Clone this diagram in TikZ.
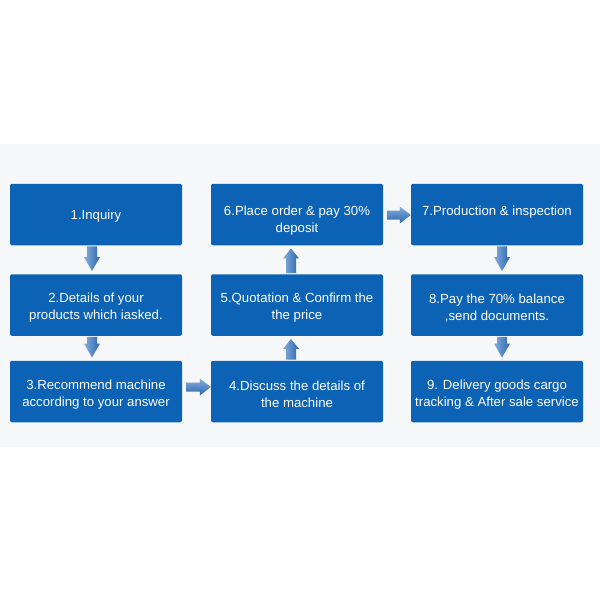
\documentclass[tikz,border=0pt]{standalone}
\usepackage{fontspec}
\setmainfont{Liberation Sans}
\usetikzlibrary{calc}
\definecolor{boxblue}{HTML}{0C62B4}
\definecolor{bandgray}{HTML}{F6F7F8}
\definecolor{arlight}{HTML}{86AEDD}
\definecolor{ardark}{HTML}{2A65AE}
\begin{document}
\begin{tikzpicture}[x=1pt,y=-1pt,
  box/.style={fill=boxblue, rounded corners=2pt, minimum width=172pt, minimum height=61.5pt, inner sep=0pt, draw=none},
  txt/.style={text=white, align=center, font=\fontsize{13.2}{17}\selectfont, inner sep=0pt},
  varrow/.style={left color=arlight, right color=ardark, draw=none},
  harrow/.style={top color=arlight, bottom color=ardark, draw=none}]
\useasboundingbox (0,0) rectangle (600,600);
\fill[bandgray] (0,144) rectangle (600,447);
% boxes
\node[box] (b1) at (96,214.5) {};
\node[box] (b2) at (96,305) {};
\node[box] (b3) at (96,391.5) {};
\node[box] (b6) at (297,214.5) {};
\node[box] (b5) at (297,305) {};
\node[box] (b4) at (297,391.5) {};
\node[box] (b7) at (497,214.5) {};
\node[box] (b8) at (497,305) {};
\node[box] (b9) at (497,391.5) {};
% texts
\node[txt] (t1) at ($(b1.center)+(0,1.5)$) {1.Inquiry};
\node[txt] (t2) at ($(b2.center)+(0,2.5)$) {2.Details of your\\products which iasked.};
\node[txt] (t3) at ($(b3.center)+(0,3)$) {3.Recommend machine\\according to your answer};
\node[txt] (t4) at ($(b4.center)+(0,3)$) {4.Discuss the details of\\the machine};
\node[txt] (t5) at ($(b5.center)+(0,3)$) {5.Quotation \& Confirm the\\the price};
\node[txt] (t6) at ($(b6.center)+(0,6)$) {6.Place order \& pay 30\%\\deposit};
\node[txt] (t7) at ($(b7.center)+(0,-2.5)$) {7.Production \& inspection};
\node[txt] (t8) at ($(b8.center)+(0,3.5)$) {8.Pay the 70\% balance\\,send documents.};
\node[txt] (t9) at ($(b9.center)+(0,3)$) {9. Delivery goods cargo\\tracking \& After sale service};
% down arrows
\foreach \a/\b/\dx in {b1/b2/-4, b2/b3/-4, b7/b8/5, b8/b9/5}{
  \path[varrow] ($(\a.south)+(\dx-5,1)$) -- ($(\a.south)+(\dx+5,1)$) -- ($(\b.north)+(\dx+5,-17)$) -- ($(\b.north)+(\dx+8,-17)$) -- ($(\b.north)+(\dx,-3)$) -- ($(\b.north)+(\dx-8,-17)$) -- ($(\b.north)+(\dx-5,-17)$) -- cycle;
}
% up arrows
\foreach \a/\b/\dx in {b4/b5/-6, b5/b6/-6}{
  \path[varrow] ($(\a.north)+(\dx-5,-1)$) -- ($(\a.north)+(\dx+5,-1)$) -- ($(\b.south)+(\dx+5,13)$) -- ($(\b.south)+(\dx+8,13)$) -- ($(\b.south)+(\dx,3)$) -- ($(\b.south)+(\dx-8,13)$) -- ($(\b.south)+(\dx-5,13)$) -- cycle;
}
% right arrows
\foreach \a/\b/\dy in {b3/b4/-4.5, b6/b7/0.5}{
  \path[harrow] ($(\a.east)+(4,\dy-4.5)$) -- ($(\b.west)+(-11,\dy-4.5)$) -- ($(\b.west)+(-11,\dy-8.5)$) -- ($(\b.west)+(0,\dy)$) -- ($(\b.west)+(-11,\dy+8.5)$) -- ($(\b.west)+(-11,\dy+4.5)$) -- ($(\a.east)+(4,\dy+4.5)$) -- cycle;
}
\end{tikzpicture}
\end{document}
